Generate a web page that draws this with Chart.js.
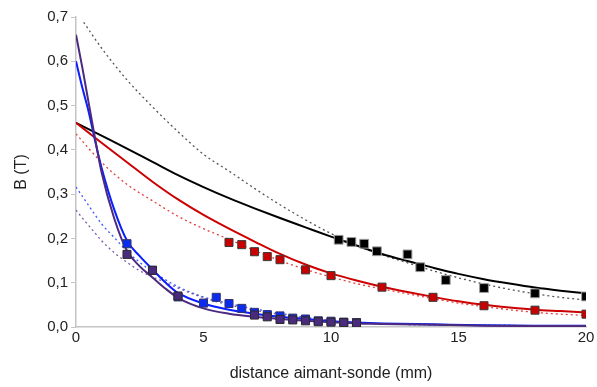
<!DOCTYPE html>
<html>
<head>
<meta charset="utf-8">
<script src="https://cdn.jsdelivr.net/npm/chart.js@4"></script>
<style>
  html, body { margin: 0; padding: 0; background: #fff; }
  #wrap { width: 597px; height: 387px; }
</style>
</head>
<body>
<div id="wrap"><canvas id="myChart" width="597" height="387"></canvas></div>
<script>
// measured points (mm, T)
var blackX = [10.3, 10.8, 11.3, 11.8, 13, 13.5, 14.5, 16, 18, 20];
var blackY = [0.197, 0.192, 0.188, 0.171, 0.164, 0.135, 0.106, 0.088, 0.076, 0.069];
var redX = [6, 6.5, 7, 7.5, 8, 9, 10, 12, 14, 16, 18, 20];
var redY = [0.191, 0.186, 0.170, 0.159, 0.152, 0.129, 0.116, 0.090, 0.067, 0.048, 0.038, 0.029];
var blueX = [2, 3, 4, 5, 5.5, 6, 6.5, 7, 7.5, 8, 8.5, 9, 9.5, 10, 10.5, 11];
var blueY = [0.188, 0.128, 0.068, 0.054, 0.067, 0.053, 0.042, 0.033, 0.028, 0.025, 0.020, 0.018, 0.014, 0.013, 0.011, 0.010];
var purpleX = [2, 3, 4, 7, 7.5, 8, 8.5, 9, 9.5, 10, 10.5, 11];
var purpleY = [0.164, 0.128, 0.070, 0.027, 0.023, 0.017, 0.016, 0.014, 0.012, 0.011, 0.010, 0.009];

// fitted curves
var slowX = [0, 1, 2, 3, 4, 5, 6, 7, 8, 9, 10, 11, 12, 13, 14, 15, 16, 17, 18, 19, 20];
var blackFit = [0.461, 0.432, 0.403, 0.373, 0.343, 0.316, 0.291, 0.268, 0.246, 0.225, 0.204, 0.184, 0.165, 0.149, 0.134, 0.120, 0.108, 0.098, 0.089, 0.082, 0.076];
var redFit = [0.461, 0.416, 0.372, 0.328, 0.288, 0.253, 0.222, 0.193, 0.165, 0.141, 0.121, 0.105, 0.091, 0.079, 0.068, 0.058, 0.050, 0.044, 0.039, 0.036, 0.033];
var redModel = [0.436, 0.372, 0.322, 0.285, 0.250, 0.222, 0.198, 0.173, 0.150, 0.130, 0.113, 0.098, 0.086, 0.075, 0.064, 0.054, 0.046, 0.039, 0.033, 0.029, 0.026];
var blackModelX = [0.3, 1, 2, 3, 4, 5, 6, 7, 8, 9, 10, 11, 12, 13, 14, 15, 16, 17, 18, 19, 20];
var blackModel = [0.688, 0.630, 0.558, 0.497, 0.441, 0.390, 0.352, 0.313, 0.276, 0.242, 0.211, 0.184, 0.163, 0.145, 0.127, 0.111, 0.097, 0.085, 0.075, 0.067, 0.061];

var fastX = [0, 0.25, 0.5, 0.75, 1, 1.5, 2, 2.5, 3, 3.5, 4, 5, 6, 7, 8, 9, 10, 11, 12, 14, 16, 18, 20];
var blueFit = [0.600, 0.540, 0.485, 0.420, 0.360, 0.265, 0.195, 0.160, 0.130, 0.101, 0.077, 0.053, 0.039, 0.030, 0.023, 0.018, 0.013, 0.010, 0.008, 0.006, 0.004, 0.003, 0.003];
var purpleFit = [0.660, 0.585, 0.505, 0.425, 0.350, 0.245, 0.172, 0.137, 0.112, 0.087, 0.066, 0.042, 0.030, 0.023, 0.018, 0.014, 0.011, 0.008, 0.007, 0.005, 0.003, 0.002, 0.002];
var blueModel = [0.316, 0.295, 0.274, 0.253, 0.233, 0.202, 0.171, 0.146, 0.125, 0.107, 0.091, 0.068, 0.053, 0.041, 0.031, 0.022, 0.015, 0.010, 0.007, 0.005, 0.004, 0.003, 0.003];
var purpleModel = [0.264, 0.246, 0.229, 0.212, 0.195, 0.168, 0.146, 0.127, 0.113, 0.101, 0.088, 0.066, 0.050, 0.038, 0.028, 0.020, 0.014, 0.010, 0.007, 0.005, 0.004, 0.003, 0.002];

var yTicks = [0, 0.1, 0.2, 0.3, 0.4, 0.5, 0.6, 0.7];
var xTicks = [0, 5, 10, 15, 20];

function pts(xs, ys) {
    return xs.map(function (x, i) { return { x: x, y: ys[i] }; });
}

function markers(label, xs, ys, fill, border, r) {
    return {
        label: label, data: pts(xs, ys), showLine: false,
        pointStyle: 'rect', pointRadius: r, pointHoverRadius: r,
        backgroundColor: fill, borderColor: border, pointBorderWidth: 1
    };
}

function curve(label, xs, ys, color, width, dash) {
    return {
        label: label, data: pts(xs, ys), showLine: true,
        borderColor: color, borderWidth: width, borderDash: dash || [],
        pointRadius: 0, cubicInterpolationMode: 'monotone', fill: false
    };
}

var ctx = document.getElementById('myChart').getContext('2d');
var chart = new Chart(ctx, {
    type: 'scatter',
    data: {
        datasets: [
            markers('purple', purpleX, purpleY, '#4a2a7c', '#2a2a2a', 5.7),
            markers('blue', blueX, blueY, '#0a2cf0', '#333366', 5.7),
            markers('red', redX, redY, '#c80000', '#3a3a3a', 5.7),
            markers('black', blackX, blackY, '#000000', '#9a9a9a', 6.2),
            curve('purple fit', fastX, purpleFit, '#4b2a80', 2),
            curve('blue fit', fastX, blueFit, '#0a1eff', 2),
            curve('red fit', slowX, redFit, '#cc0000', 2),
            curve('black fit', slowX, blackFit, '#000000', 2),
            curve('purple model', fastX, purpleModel, '#7a5aa8', 1.3, [2, 3]),
            curve('blue model', fastX, blueModel, '#3a5aff', 1.3, [2, 3]),
            curve('red model', slowX, redModel, '#e04040', 1.3, [2, 3]),
            curve('black model', blackModelX, blackModel, '#555555', 1.3, [2, 3])
        ]
    },
    options: {
        responsive: false,
        animation: false,
        layout: { padding: { left: 0, right: 11, top: 17, bottom: 4 } },
        plugins: { legend: { display: false }, tooltip: { enabled: false } },
        scales: {
            x: {
                type: 'linear', min: 0, max: 20,
                afterBuildTicks: function (s) { s.ticks = xTicks.map(function (v) { return { value: v }; }); },
                afterFit: function (s) { s.height = 56; },
                border: { color: '#c4c4c4', width: 1.5 },
                grid: { drawOnChartArea: false, drawTicks: false },
                ticks: { padding: 2, color: '#222', font: { family: 'Liberation Sans', size: 15 }, maxRotation: 0 },
                title: { display: true, text: 'distance aimant-sonde (mm)', color: '#222', font: { family: 'Liberation Sans', size: 16 }, padding: { top: 4, bottom: 0 } }
            },
            y: {
                type: 'linear', min: 0, max: 0.7,
                afterBuildTicks: function (s) { s.ticks = yTicks.map(function (v) { return { value: v }; }); },
                afterFit: function (s) { s.width = 76; },
                border: { color: '#c4c4c4', width: 1.5 },
                grid: { drawOnChartArea: false, tickLength: 5, color: '#c4c4c4' },
                ticks: {
                    padding: 3, color: '#222', font: { family: 'Liberation Sans', size: 15 },
                    callback: function (v) { return v.toFixed(1).replace('.', ','); }
                },
                title: { display: true, text: 'B (T)', color: '#222', font: { family: 'Liberation Sans', size: 16 }, padding: { top: 12, bottom: 0 } }
            }
        }
    }
});
</script>
</body>
</html>
